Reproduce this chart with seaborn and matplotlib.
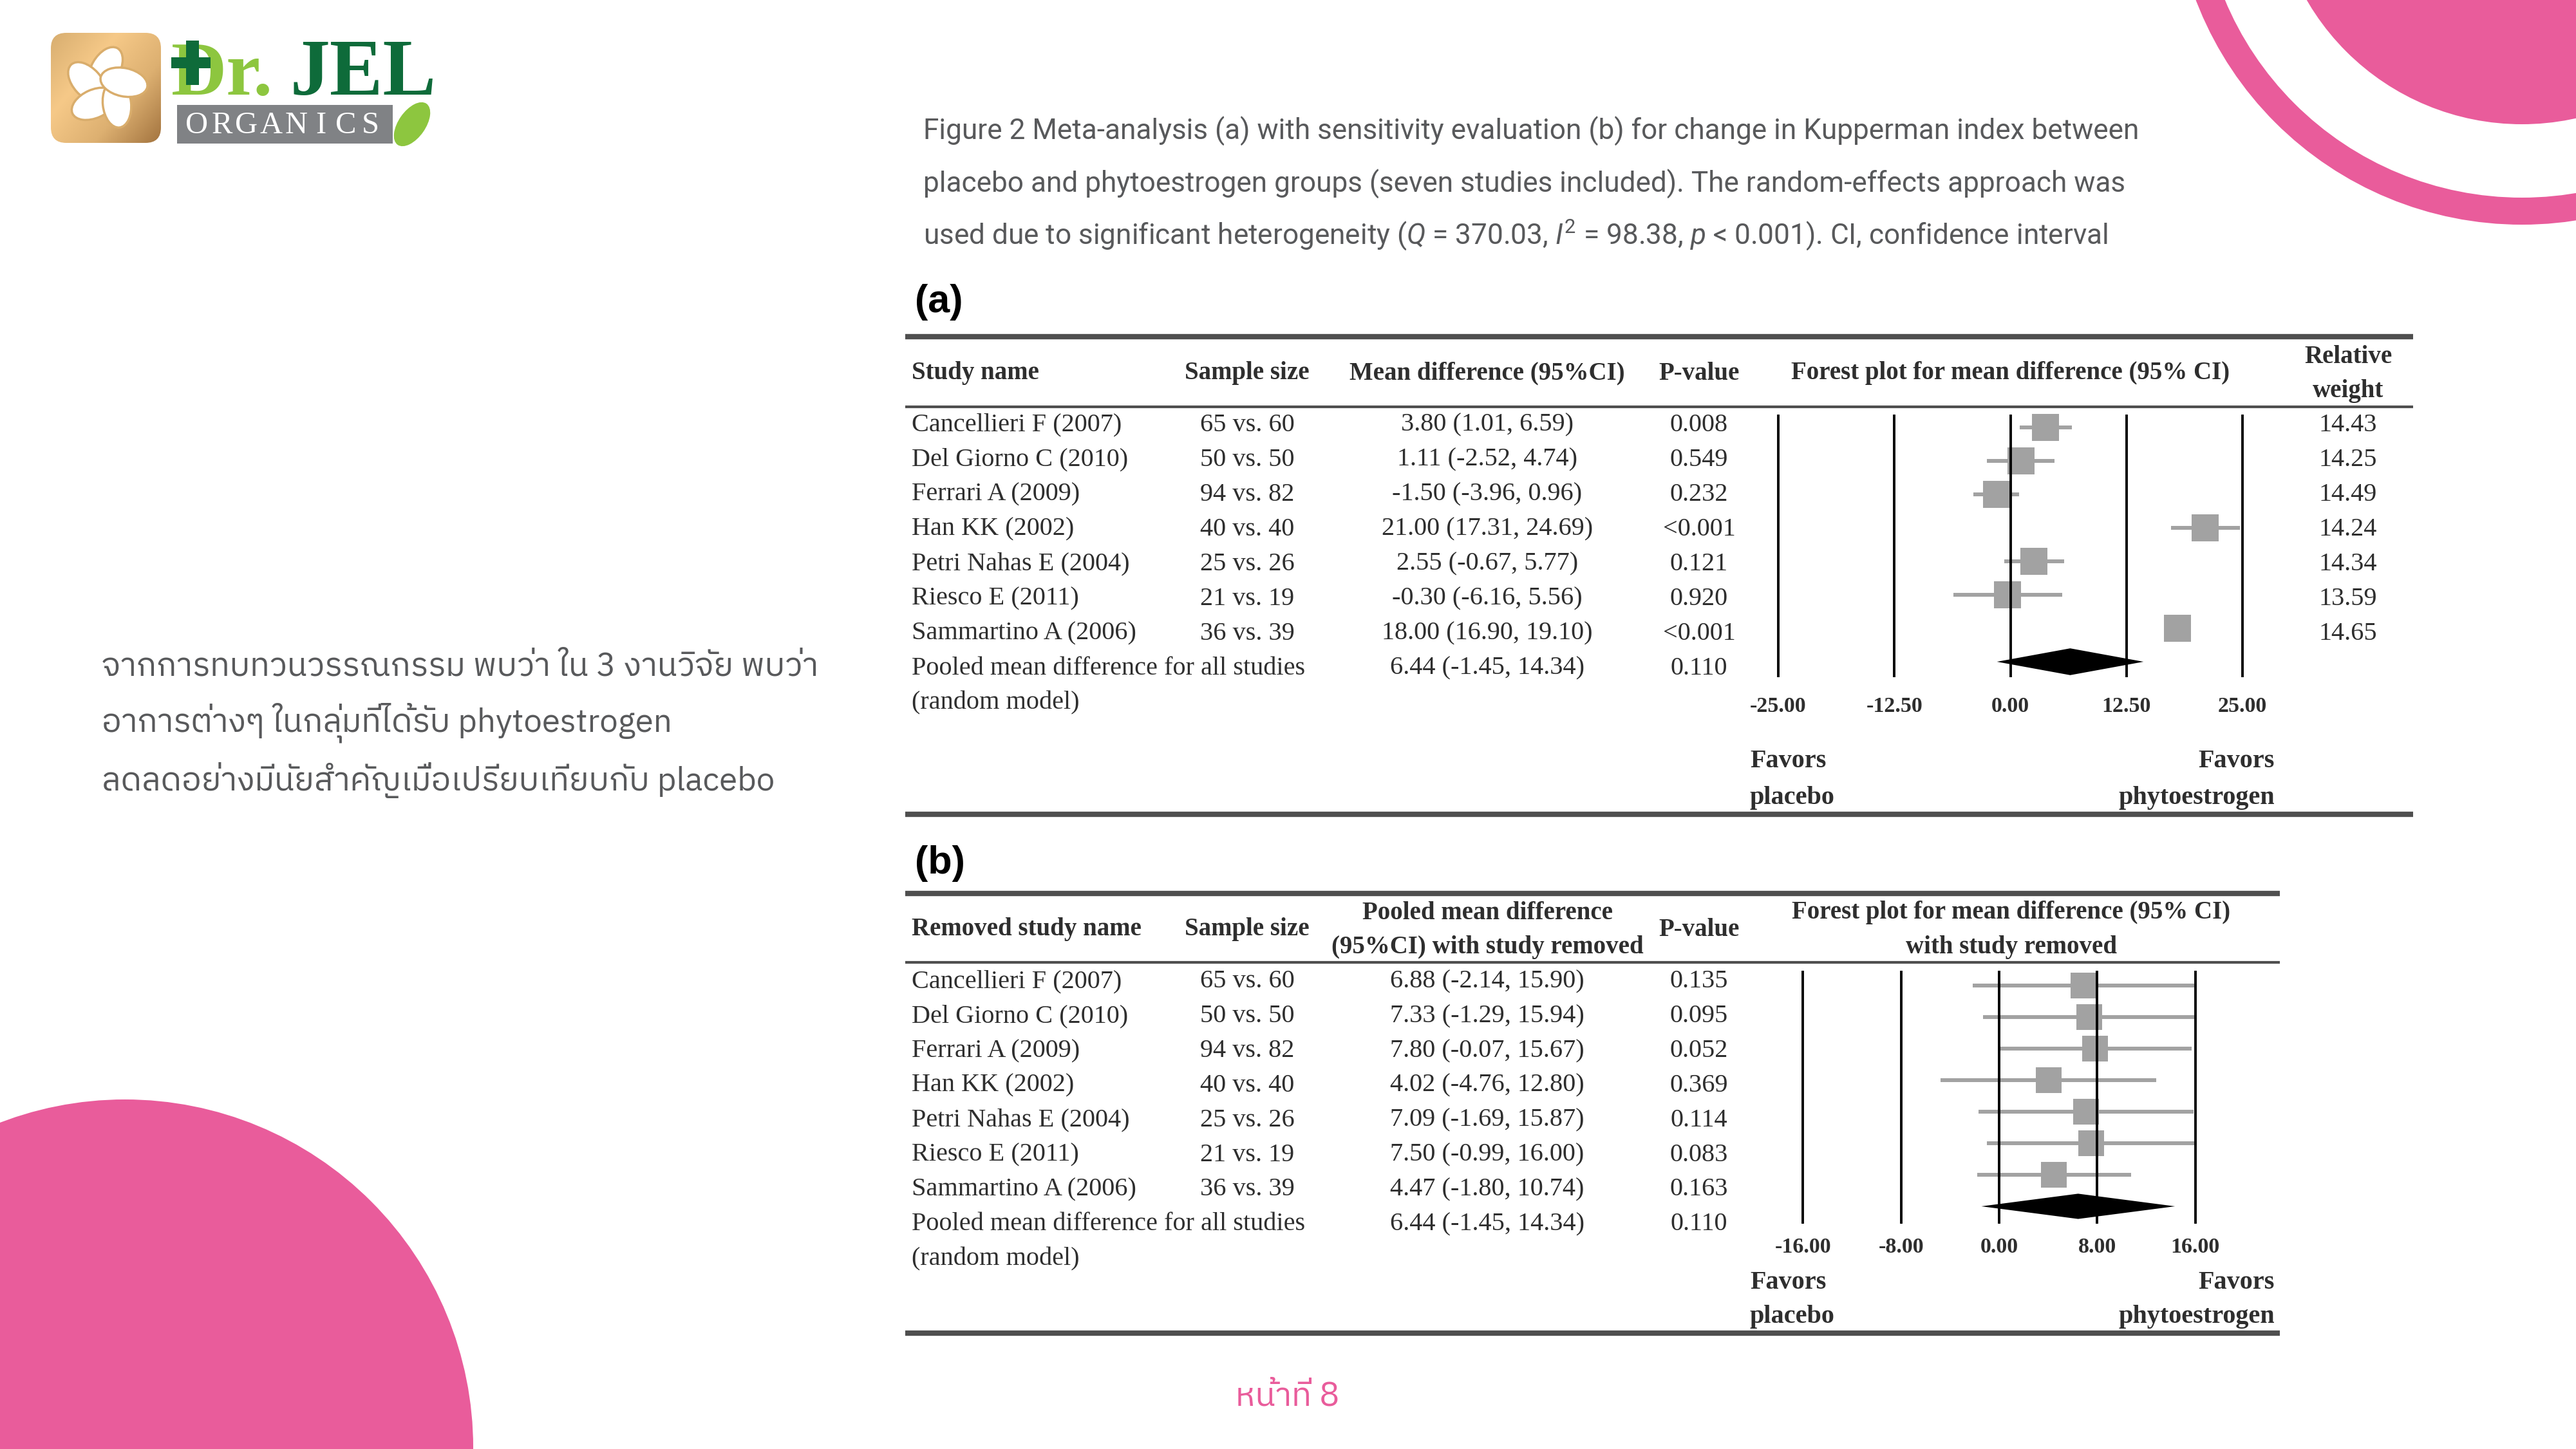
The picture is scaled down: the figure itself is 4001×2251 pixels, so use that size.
import numpy as np
import matplotlib
matplotlib.use('Agg')
import matplotlib.pyplot as plt
import matplotlib.patches as mpatches
import matplotlib.transforms as mtransforms
from matplotlib.colors import LinearSegmentedColormap
from matplotlib import font_manager
from matplotlib.ft2font import FT2Font
import pandas as pd
import seaborn as sns

# ---- data -------------------------------------------------------------
studies = ['Cancellieri F (2007)', 'Del Giorno C (2010)', 'Ferrari A (2009)',
           'Han KK (2002)', 'Petri Nahas E (2004)', 'Riesco E (2011)',
           'Sammartino A (2006)']
sample_sizes = ['65 vs. 60', '50 vs. 50', '94 vs. 82', '40 vs. 40',
                '25 vs. 26', '21 vs. 19', '36 vs. 39']

# (a) meta-analysis
md_a = [3.80, 1.11, -1.50, 21.00, 2.55, -0.30, 18.00]
lo_a = [1.01, -2.52, -3.96, 17.31, -0.67, -6.16, 16.90]
hi_a = [6.59, 4.74, 0.96, 24.69, 5.77, 5.56, 19.10]
p_a = ['0.008', '0.549', '0.232', '<0.001', '0.121', '0.920', '<0.001']
weight_a = ['14.43', '14.25', '14.49', '14.24', '14.34', '13.59', '14.65']

# (b) sensitivity (one study removed)
md_b = [6.88, 7.33, 7.80, 4.02, 7.09, 7.50, 4.47]
lo_b = [-2.14, -1.29, -0.07, -4.76, -1.69, -0.99, -1.80]
hi_b = [15.90, 15.94, 15.67, 12.80, 15.87, 16.00, 10.74]
p_b = ['0.135', '0.095', '0.052', '0.369', '0.114', '0.083', '0.163']

pooled = [6.44, -1.45, 14.34]
pooled_p = '0.110'

ticks_a = [-25.0, -12.5, 0.0, 12.5, 25.0]
ticks_b = [-16.0, -8.0, 0.0, 8.0, 16.0]

caption = ['Figure 2 Meta-analysis (a) with sensitivity evaluation (b) for change in Kupperman index between',
           'placebo and phytoestrogen groups (seven studies included). The random-effects approach was',
           'used due to significant heterogeneity ($Q$ = 370.03, $I^2$ = 98.38, $p$ < 0.001). CI, confidence interval']
thai_lines = ['จากการทบทวนวรรณกรรม พบว่า ใน 3 งานวิจัย พบว่า',
              'อาการต่างๆ ในกลุ่มที่ได้รับ phytoestrogen',
              'ลดลดอย่างมีนัยสำคัญเมื่อเปรียบเทียบกับ placebo']
page_label = 'หน้าที่ 8'

# ---- style ------------------------------------------------------------
W, H = 4001, 2251
PINK = '#E95C9B'
GREY_TXT = '#58595B'
INK = '#2E2E2E'
MARK = '#A2A2A2'

sns.set_style('white')
plt.rcParams['font.family'] = ['Liberation Serif', 'DejaVu Serif']
plt.rcParams['mathtext.fontset'] = 'custom'
plt.rcParams['mathtext.rm'] = 'Roboto'
plt.rcParams['mathtext.it'] = 'Roboto:italic'


def thai_family():
    found = []
    for f in font_manager.fontManager.ttflist:
        try:
            cmap = FT2Font(f.fname).get_charmap()
        except Exception:
            continue
        if 0x0E01 in cmap and 0x0E48 in cmap:
            found.append(f.name)
    for name in found:
        if 'Thai' in name and 'Looped' not in name:
            return name
    return found[0] if found else 'DejaVu Sans'


THAI = thai_family()

fig = plt.figure(figsize=(W / 100, H / 100), dpi=100)
bg = fig.add_axes([0, 0, 1, 1])
renderer = fig.canvas.get_renderer()


def fit(t, width):
    w = t.get_window_extent(renderer).width
    t.set_fontsize(t.get_fontsize() * width / w)
    return t.get_fontsize()


# ---- decorations --------------------------------------------------------
bg.add_patch(mpatches.Circle((3917, -193), 542, color=PINK, lw=0))
bg.add_patch(mpatches.Circle((3917, -193), 500, color='white', lw=0))
bg.add_patch(mpatches.Circle((3917, -193), 386, color=PINK, lw=0))
bg.add_patch(mpatches.Circle((194, 2249), 541, color=PINK, lw=0))

# logo
box = mpatches.FancyBboxPatch((79, 51), 171, 171, boxstyle='round,pad=0,rounding_size=24',
                              facecolor='none', edgecolor='none')
bg.add_patch(box)
gx, gy = np.meshgrid(np.linspace(0, 1, 60), np.linspace(0, 1, 60))
grad = 0.55 * gx + 0.45 * gy
gold = LinearSegmentedColormap.from_list('gold', ['#D8AE70', '#F6C988', '#DDB071', '#A47540'])
im = bg.imshow(grad, extent=(79, 250, 222, 51), cmap=gold, zorder=2)
im.set_clip_path(box)
for k in range(5):
    ang = np.deg2rad(90 + 72 * k)
    cx, cy = 164 + 30 * np.cos(ang), 137 - 30 * np.sin(ang)
    bg.add_patch(mpatches.Ellipse((cx, cy), 44, 74, angle=-(72 * k) + 30,
                                  facecolor='white', edgecolor='#D9AD6C', lw=2.5, zorder=3))
bg.add_patch(mpatches.Rectangle((275, 163), 335, 60, color='#808285', lw=0))
bg.add_patch(mpatches.Ellipse((640, 193), 42, 78, angle=35, color='#8DC63F', lw=0))
for i, ch in enumerate('ORGANICS'):
    bg.text(306 + i * 38.5, 195, ch, color='white', fontsize=35, va='center', ha='center',
            family=['Liberation Serif'])
t = bg.text(266, 147, 'Dr.', color='#8DC63F', fontweight='bold', fontsize=90,
            va='baseline', ha='left', family=['Liberation Serif'])
fit(t, 158)
t = bg.text(450, 147, 'JEL', color='#0E6B3A', fontweight='bold', fontsize=90,
            va='baseline', ha='left', family=['Liberation Serif'])
fit(t, 227)
bg.add_patch(mpatches.Rectangle((266, 89), 61, 17, color='#0E6B3A', lw=0, zorder=4))
bg.add_patch(mpatches.Rectangle((289, 63), 20, 69, color='#0E6B3A', lw=0, zorder=4))

# ---- caption and side text ----------------------------------------------
cap_ys = [204, 286, 365]
size = None
for line, y in zip(caption, cap_ys):
    t = bg.text(1434, y, line, color=GREY_TXT, fontsize=30, va='center', ha='left',
                family=['Roboto', 'DejaVu Sans'])
    if size is None:
        size = fit(t, 1886)
    else:
        t.set_fontsize(size)

thai_ys = [1036, 1123, 1212]
size = None
for line, y in zip(thai_lines, thai_ys):
    t = bg.text(158, y, line, color=GREY_TXT, fontsize=40, va='center', ha='left',
                family=[THAI, 'DejaVu Sans'])
    if size is None:
        size = fit(t, 1113)
    else:
        t.set_fontsize(size)

t = bg.text(2000, 2170, page_label, color=PINK, fontsize=30, va='center', ha='center',
            family=[THAI, 'DejaVu Sans'])
fit(t, 161)

# ---- tables -------------------------------------------------------------
ROW_PT = 29
HEAD_PT = 28


def rule(y, x0, x1, lw):
    bg.plot([x0, x1], [y, y], color='#4F4F4F', lw=lw, solid_capstyle='butt')


def head(x, y, s, ha='center'):
    bg.text(x, y, s, fontsize=HEAD_PT, fontweight='bold', color=INK, ha=ha, va='center')


def cell(x, y, s, ha='center'):
    bg.text(x, y, s, fontsize=ROW_PT, color=INK, ha=ha, va='center')


def fmt(m, l, h):
    return f'{m:.2f} ({l:.2f}, {h:.2f})'


def body(ys, mds, los, his, ps):
    for i in range(len(studies)):
        cell(1416, ys[i], studies[i], ha='left')
        cell(1937, ys[i], sample_sizes[i])
        cell(2310, ys[i], fmt(mds[i], los[i], his[i]))
        cell(2639, ys[i], ps[i])
    cell(1416, ys[7], 'Pooled mean difference for all studies', ha='left')
    cell(2310, ys[7], fmt(*pooled))
    cell(2639, ys[7], pooled_p)
    cell(1416, ys[8], '(random model)', ha='left')


def forest(px_box, zero_px, px_per, row0, pitch, mds, los, his, ticks, tick_y,
           fav_ys, msize):
    x0, x1, y0, y1 = px_box
    ax = fig.add_axes([x0 / W, 1 - y1 / H, (x1 - x0) / W, (y1 - y0) / H])
    ax.axis('off')
    ax.patch.set_alpha(0)
    df = pd.DataFrame({'md': mds, 'lo': los, 'hi': his, 'row': np.arange(len(mds))})
    ax.hlines(df['row'], df['lo'], df['hi'], color=MARK, lw=4.3, zorder=2)
    sns.scatterplot(data=df, x='md', y='row', marker='s', s=msize, color=MARK,
                    linewidth=0, legend=False, ax=ax, zorder=3)
    est, lo, hi = pooled
    n = len(mds)
    ax.fill([lo, est, hi, est], [n, n - 0.4, n, n + 0.4], color='black', lw=0, zorder=3)
    ax.vlines(ticks, (y0 + 8 - row0) / pitch, (y1 - 6 - row0) / pitch,
              color='black', lw=2.8, zorder=4)
    ax.set_xlim((x0 - zero_px) / px_per, (x1 - zero_px) / px_per)
    ax.set_ylim((y1 - row0) / pitch, (y0 - row0) / pitch)
    tr = mtransforms.blended_transform_factory(ax.transData, bg.transData)
    for tk in ticks:
        ax.text(tk, tick_y, f'{tk:.2f}', transform=tr, fontsize=24.5, fontweight='bold',
                color=INK, ha='center', va='center')
    bg.text(2718, fav_ys[0], 'Favors', fontsize=29, fontweight='bold', color=INK, va='center')
    bg.text(2718, fav_ys[1], 'placebo', fontsize=29, fontweight='bold', color=INK, va='center')
    bg.text(3533, fav_ys[0], 'Favors', fontsize=29, fontweight='bold', color=INK,
            va='center', ha='right')
    bg.text(3533, fav_ys[1], 'phytoestrogen', fontsize=29, fontweight='bold', color=INK,
            va='center', ha='right')
    return ax


# panel (a)
bg.text(1421, 470, '(a)', fontsize=44, fontweight='bold', color='black', va='center',
        ha='left', family=['Liberation Sans', 'DejaVu Sans'])
rule(523, 1406, 3748, 6)
rule(632, 1406, 3748, 3)
rule(1265, 1406, 3748, 6)
head(1416, 580, 'Study name', ha='left')
head(1937, 580, 'Sample size')
head(2310, 580, 'Mean difference (95%CI)')
head(2639, 580, 'P-value')
head(3123, 580, 'Forest plot for mean difference (95% CI)')
head(3647, 555, 'Relative')
head(3647, 607, 'weight')
ys_a = [660 + 54 * i for i in range(9)]
body(ys_a, md_a, lo_a, hi_a, p_a)
for i, w in enumerate(weight_a):
    cell(3647, ys_a[i], w)
forest((2700, 3560, 636, 1058), 3122.5, 14.42, 664, 52, md_a, lo_a, hi_a,
       ticks_a, 1097, (1182, 1240), 914)

# panel (b)
bg.text(1421, 1342, '(b)', fontsize=44, fontweight='bold', color='black', va='center',
        ha='left', family=['Liberation Sans', 'DejaVu Sans'])
rule(1388, 1406, 3541, 6)
rule(1495, 1406, 3541, 3)
rule(2071, 1406, 3541, 6)
head(1416, 1444, 'Removed study name', ha='left')
head(1937, 1444, 'Sample size')
head(2310, 1418, 'Pooled mean difference')
head(2310, 1472, '(95%CI) with study removed')
head(2639, 1444, 'P-value')
head(3124, 1418, 'Forest plot for mean difference (95% CI)')
head(3124, 1472, 'with study removed')
ys_b = [1525 + 53.8 * i for i in range(9)]
body(ys_b, md_b, lo_b, hi_b, p_b)
forest((2700, 3520, 1500, 1907), 3105, 19.05, 1531, 49, md_b, lo_b, hi_b,
       ticks_b, 1938, (1993, 2046), 829)

bg.set_aspect('auto')
bg.set_xlim(0, W)
bg.set_ylim(H, 0)
bg.axis('off')

fig.savefig('out.png', dpi=100, facecolor='white')
